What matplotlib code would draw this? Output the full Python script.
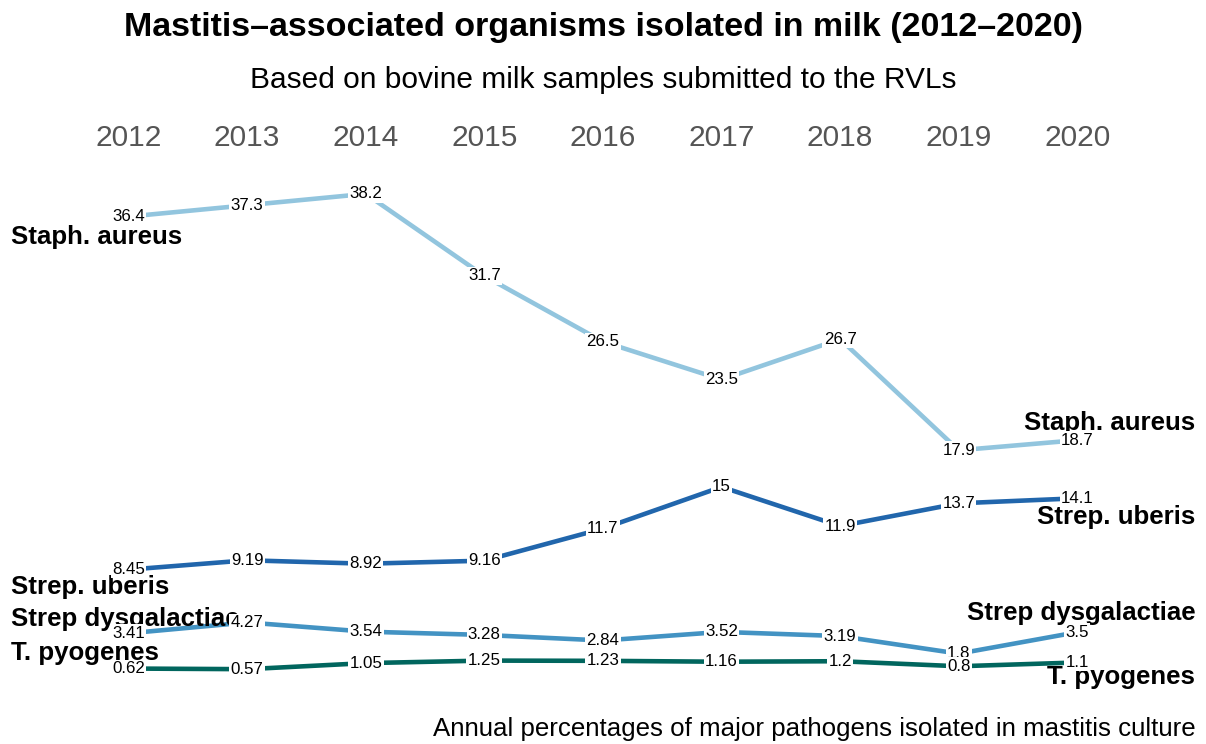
import matplotlib
matplotlib.use("Agg")
import matplotlib.pyplot as plt

# Annual percentages of major mastitis pathogens (bovine milk, RVLs)
years = [2012, 2013, 2014, 2015, 2016, 2017, 2018, 2019, 2020]
staph_aureus = [36.4, 37.3, 38.2, 31.7, 26.5, 23.5, 26.7, 17.9, 18.7]
strep_uberis = [8.45, 9.19, 8.92, 9.16, 11.7, 15, 11.9, 13.7, 14.1]
strep_dysgalactiae = [3.41, 4.27, 3.54, 3.28, 2.84, 3.52, 3.19, 1.8, 3.5]
t_pyogenes = [0.62, 0.57, 1.05, 1.25, 1.23, 1.16, 1.2, 0.8, 1.1]

series_names = ["Staph. aureus", "Strep. uberis", "Strep dysgalactiae", "T. pyogenes"]
series_values = [staph_aureus, strep_uberis, strep_dysgalactiae, t_pyogenes]
series_colors = ["#92C5DE", "#2166AC", "#4393C3", "#01665E"]

# vertical pixel offsets of the end labels (left, right) relative to the end points
left_offsets = [-20, -17, 14, 16]
right_offsets = [17, -19, 19, -15]

FONT = "Liberation Sans"
plt.rcParams["font.family"] = [FONT, "DejaVu Sans"]

W, H = 1206, 744
fig = plt.figure(figsize=(W / 100, H / 100), dpi=100)
ax_top, ax_bot = 160, 700
ax = fig.add_axes([0, 1 - ax_bot / H, 1, (ax_bot - ax_top) / H])
ax.set_xlim(2010.9165, 2021.085)
ax.set_ylim(-1.87, 40.88)

for v, c in zip(series_values, series_colors):
    ax.plot(years, v, color=c, lw=3.3, solid_capstyle="butt", zorder=1)

for name, v, lo, ro in zip(series_names, series_values, left_offsets, right_offsets):
    ax.annotate(name, xy=(years[0], v[0]), xytext=(-118, lo), textcoords="offset pixels",
                ha="left", va="center", fontsize=18.6, fontweight="bold", color="black",
                zorder=2)
    ax.annotate(name, xy=(years[-1], v[-1]), xytext=(118, ro), textcoords="offset pixels",
                ha="right", va="center", fontsize=18.6, fontweight="bold", color="black",
                zorder=2)

for v in series_values:
    for x, y in zip(years, v):
        ax.text(x, y, f"{y:g}", ha="center", va="center", fontsize=12.2, color="black",
                zorder=3, bbox=dict(boxstyle="square,pad=0.08", fc="white", ec="none"))

ax.xaxis.tick_top()
ax.set_xticks(years)
ax.set_xticklabels([str(y) for y in years], fontsize=21.5, color="#555555")
ax.tick_params(axis="x", length=0, pad=6)
ax.set_yticks([])
for s in ax.spines.values():
    s.set_visible(False)

fig.text(0.5, 1 - 36 / H, "Mastitis\u2013associated organisms isolated in milk (2012\u20132020)",
         ha="center", va="baseline", fontsize=24.5, fontweight="bold")
fig.text(0.5, 1 - 88 / H, "Based on bovine milk samples submitted to the RVLs",
         ha="center", va="baseline", fontsize=21.5)
fig.text(1 - 10 / W, 1 - 736 / H,
         "Annual percentages of major pathogens isolated in mastitis culture",
         ha="right", va="baseline", fontsize=18.6)

fig.savefig("out.png", dpi=100, facecolor="white")
